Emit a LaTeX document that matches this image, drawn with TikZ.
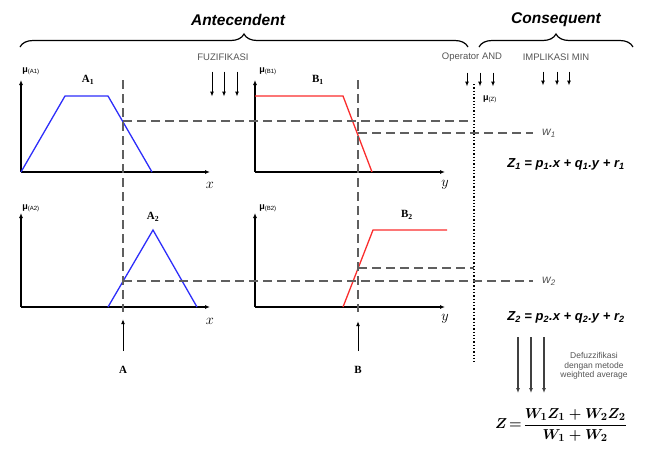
\documentclass[tikz,border=0pt]{standalone}
\usepackage{amsmath}
\usepackage{fontspec}
\setmainfont{Liberation Sans}
\newfontfamily\timesfont{Liberation Serif}
\usepackage{tikz}
\usetikzlibrary{positioning,calc,arrows.meta,decorations.pathreplacing}
\definecolor{mfblue}{RGB}{45,45,250}
\definecolor{mfred}{RGB}{250,45,45}
\definecolor{guidegray}{RGB}{95,95,95}
\definecolor{notegray}{RGB}{85,85,85}
\newcommand{\mem}[1]{\textbf{μ}\textsubscript{(#1)}}
\newcommand{\zeq}[1]{Z\textsubscript{#1} = p\textsubscript{#1}.x + q\textsubscript{#1}.y + r\textsubscript{#1}}

\begin{document}
\begin{tikzpicture}[x=1pt,y=-1pt,>={Latex[length=5pt,width=4pt]},every node/.style={inner sep=1pt}]
  \tikzstyle{axisline}=[line width=1.2pt, ->]
  \tikzstyle{guide}=[guidegray, line width=1.6pt, dash pattern=on 9pt off 5pt]
  \tikzstyle{mfA}=[mfblue, line width=1.3pt]
  \tikzstyle{mfB}=[mfred, line width=1.3pt]
  \tikzstyle{headlabel}=[font=\fontsize{15.5}{16}\selectfont\bfseries\itshape]
  \tikzstyle{steplabel}=[font=\fontsize{9.5}{10}\selectfont, text=notegray]
  \tikzstyle{memlabel}=[font=\fontsize{9}{9}\selectfont]
  \tikzstyle{setlabel}=[font=\fontsize{11}{11}\selectfont\timesfont\bfseries]
  \tikzstyle{varlabel}=[font=\fontsize{14}{14}\selectfont]
  \tikzstyle{eqlabel}=[font=\fontsize{13}{13}\selectfont\bfseries\itshape]
  \tikzstyle{wlabel}=[font=\fontsize{12}{12}\selectfont\itshape, text=notegray]
  \tikzstyle{brace}=[decorate, decoration={brace, amplitude=13pt}, line width=1.2pt]
  \tikzstyle{thinarrow}=[->, line width=1pt]
  \useasboundingbox (0,0) rectangle (645,459);

  % headings and braces
  \node[headlabel] (ante) at (238,20) {Antecendent};
  \node[headlabel] (cons) at (556,20) {Consequent};
  \draw[brace] (20,47) -- (468,47);
  \draw[brace] (479,47) -- (633,47);

  % step labels
  \node[steplabel] (fuz) at (223,57) {FUZIFIKASI};
  \node[steplabel] (opand) at (472,57) {Operator AND};
  \node[steplabel] (impl) at (556,57) {IMPLIKASI MIN};
  \foreach \dx in {-11,1,14} \draw[thinarrow] ($(fuz.south)+(\dx,10)$) -- ++(0,25);
  \foreach \dx in {-5,8,21} \draw[thinarrow] ($(opand.south)+(\dx,10)$) -- ++(0,14);
  \foreach \dx in {-13,1,13} \draw[thinarrow] ($(impl.south)+(\dx,10)$) -- ++(0,14);

  % axes
  \coordinate (oA1) at (21,172);
  \coordinate (oB1) at (255,172);
  \coordinate (oA2) at (21,307);
  \coordinate (oB2) at (255,307);
  \draw[axisline] (oA1) -- ++(0,-92);
  \draw[axisline] (oA1) -- ++(189,0);
  \draw[axisline] (oB1) -- ++(0,-92);
  \draw[axisline] (oB1) -- ++(190,0);
  \draw[axisline] (oA2) -- ++(0,-94);
  \draw[axisline] (oA2) -- ++(189,0);
  \draw[axisline] (oB2) -- ++(0,-94);
  \draw[axisline] (oB2) -- ++(190,0);
  \node[varlabel] (xA1) at (210,185) {$x$};
  \node[varlabel] (yB1) at (445,185) {$y$};
  \node[varlabel] (xA2) at (210,321) {$x$};
  \node[varlabel] (yB2) at (445,319) {$y$};
  \node[memlabel] (muA1) at (31,71) {\mem{A1}};
  \node[memlabel] (muB1) at (268,71) {\mem{B1}};
  \node[memlabel] (muA2) at (31,208) {\mem{A2}};
  \node[memlabel] (muB2) at (268,208) {\mem{B2}};

  % membership functions
  \draw[mfA] (oA1) -- (65,96) -- (108,96) -- (152,172);
  \draw[mfB] (255,96) -- (343,96) -- (372,172);
  \draw[mfA] (108,307) -- (153,230) -- (197,307);
  \draw[mfB] (343,307) -- (373,230) -- (447,230);
  \node[setlabel] (A1) at (88,80) {A\textsubscript{1}};
  \node[setlabel] (B1) at (318,80) {B\textsubscript{1}};
  \node[setlabel] (A2) at (153,217) {A\textsubscript{2}};
  \node[setlabel] (B2) at (407,215) {B\textsubscript{2}};

  % divider and firing strengths
  \draw[dotted, line width=1.3pt] (474,84) -- (474,362);
  \node[memlabel] (muZ) at (490,99) {\mem{Z}};
  \node[wlabel] (w1) at (549,133) {w\textsubscript{1}};
  \node[wlabel] (w2) at (549,281) {w\textsubscript{2}};
  \draw[guide] (123,80) -- (123,312);
  \draw[guide] (358,80) -- (358,312);
  \draw[guide] (123,121) -- (474,121);
  \draw[guide] (358,133) -- ($(w1.west)+(-8,0)$);
  \draw[guide] (358,268) -- (474,268);
  \draw[guide] (123,281) -- ($(w2.west)+(-8,0)$);

  % crisp inputs
  \node[setlabel] (inA) at (123,370) {A};
  \node[setlabel] (inB) at (358,370) {B};
  \draw[thinarrow] ($(inA.north)+(0,-14)$) -- ++(0,-32);
  \draw[thinarrow] ($(inB.north)+(0,-14)$) -- ++(0,-30);

  % rule outputs and defuzzification
  \node[eqlabel] (z1eq) at (566,164) {\zeq{1}};
  \node[eqlabel] (z2eq) at (566,317) {\zeq{2}};
  \node[steplabel, font=\fontsize{8.5}{9.5}\selectfont, align=center] (defuz) at (594,366) {Defuzzifikasi\\dengan metode\\weighted average};
  \node[font=\fontsize{15.5}{16}\selectfont\boldmath] (zfrac) at (561,425) {$Z\!=\!\dfrac{W_1Z_1+W_2Z_2}{W_1+W_2}$};
  \foreach \dx in {-48,-35,-22}
    \draw[->, line width=1.6pt, black!75] ($(z2eq.south)+(\dx,13)$) -- ++(0,56);
\end{tikzpicture}
\end{document}
